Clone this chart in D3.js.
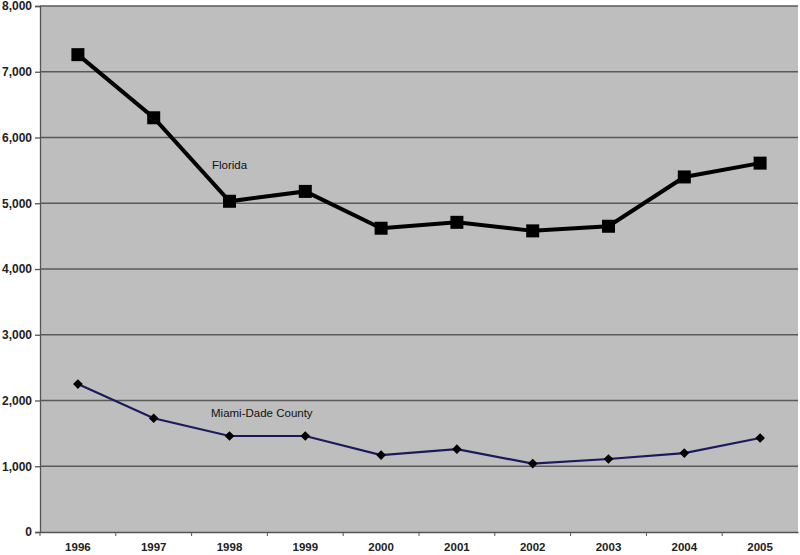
<!DOCTYPE html>
<html>
<head>
<meta charset="utf-8">
<script src="https://cdn.jsdelivr.net/npm/d3@7"></script>
<style>
  body { margin: 0; background: #fff; }
  svg { display: block; font-family: "Liberation Sans", Arial, sans-serif; }
</style>
</head>
<body>
<div id="chart"></div>
<script>
const years = ["1996","1997","1998","1999","2000","2001","2002","2003","2004","2005"];
const florida = [7260, 6300, 5030, 5180, 4620, 4710, 4580, 4650, 5400, 5610];
const miami = [2250, 1730, 1460, 1460, 1170, 1260, 1040, 1110, 1200, 1430];
const yTicks = [0, 1000, 2000, 3000, 4000, 5000, 6000, 7000, 8000];

const margin = {top: 6, right: 2, bottom: 23, left: 40},
    width = 800 - margin.left - margin.right,
    height = 555 - margin.top - margin.bottom;

const svg = d3.select("#chart")
    .append("svg")
    .attr("width", 800)
    .attr("height", 555)
    .append("g")
    .attr("transform", `translate(${margin.left}, ${margin.top})`);

const x = d3.scaleBand()
    .range([0, width])
    .domain(years);

const y = d3.scaleLinear()
    .range([height, 0])
    .domain([0, 8000]);

// plot background
svg.append("rect")
    .attr("width", width)
    .attr("height", height)
    .style("fill", "#bebebe");

// gridlines
svg.selectAll(".grid")
    .data(yTicks.filter(d => d > 0))
    .enter()
    .append("line")
    .attr("x1", 0)
    .attr("x2", width)
    .attr("y1", d => y(d))
    .attr("y2", d => y(d))
    .style("stroke", "#5a5a5a")
    .style("stroke-width", 1.3);

// y axis
const yAxis = svg.append("g")
    .call(d3.axisLeft(y).tickValues(yTicks).tickFormat(d3.format(",")).tickSize(5).tickPadding(3));
yAxis.selectAll("text").style("font-size", "12px").style("font-weight", "bold").style("fill", "#222");
yAxis.selectAll("line, path").style("stroke", "#555").style("stroke-width", 1.3);

// x axis, ticks between categories
const xAxis = svg.append("g")
    .attr("transform", `translate(0, ${height})`)
    .call(d3.axisBottom(x).tickSize(0).tickPadding(11));
xAxis.selectAll("text").style("font-size", "11.5px").style("font-weight", "bold").style("fill", "#222");
xAxis.select(".domain").style("stroke", "#555").style("stroke-width", 1.5);
xAxis.selectAll(".sep")
    .data(years)
    .enter()
    .append("line")
    .attr("x1", d => x(d))
    .attr("x2", d => x(d))
    .attr("y1", 0)
    .attr("y2", 4)
    .style("stroke", "#555");

const line = d3.line()
    .x((d, i) => x(years[i]) + x.bandwidth() / 2)
    .y(d => y(d));

// Florida
svg.append("path")
    .datum(florida)
    .attr("d", line)
    .style("fill", "none")
    .style("stroke", "#000")
    .style("stroke-width", 4);
svg.selectAll(".fl")
    .data(florida)
    .enter()
    .append("rect")
    .attr("x", (d, i) => x(years[i]) + x.bandwidth() / 2 - 6.5)
    .attr("y", d => y(d) - 6.5)
    .attr("width", 13)
    .attr("height", 13)
    .style("fill", "#000");

// Miami-Dade
svg.append("path")
    .datum(miami)
    .attr("d", line)
    .style("fill", "none")
    .style("stroke", "#1c1a5c")
    .style("stroke-width", 2.2);
svg.selectAll(".md")
    .data(miami)
    .enter()
    .append("path")
    .attr("d", d3.symbol().type(d3.symbolDiamond2).size(60))
    .attr("transform", (d, i) => `translate(${x(years[i]) + x.bandwidth() / 2}, ${y(d)})`)
    .style("fill", "#000");

// series labels
svg.append("text")
    .attr("x", 172)
    .attr("y", 163)
    .style("font-size", "11.5px")
    .style("fill", "#111")
    .text("Florida");

svg.append("text")
    .attr("x", 171)
    .attr("y", 411)
    .style("font-size", "11.5px")
    .style("fill", "#111")
    .text("Miami-Dade County");
</script>
</body>
</html>
